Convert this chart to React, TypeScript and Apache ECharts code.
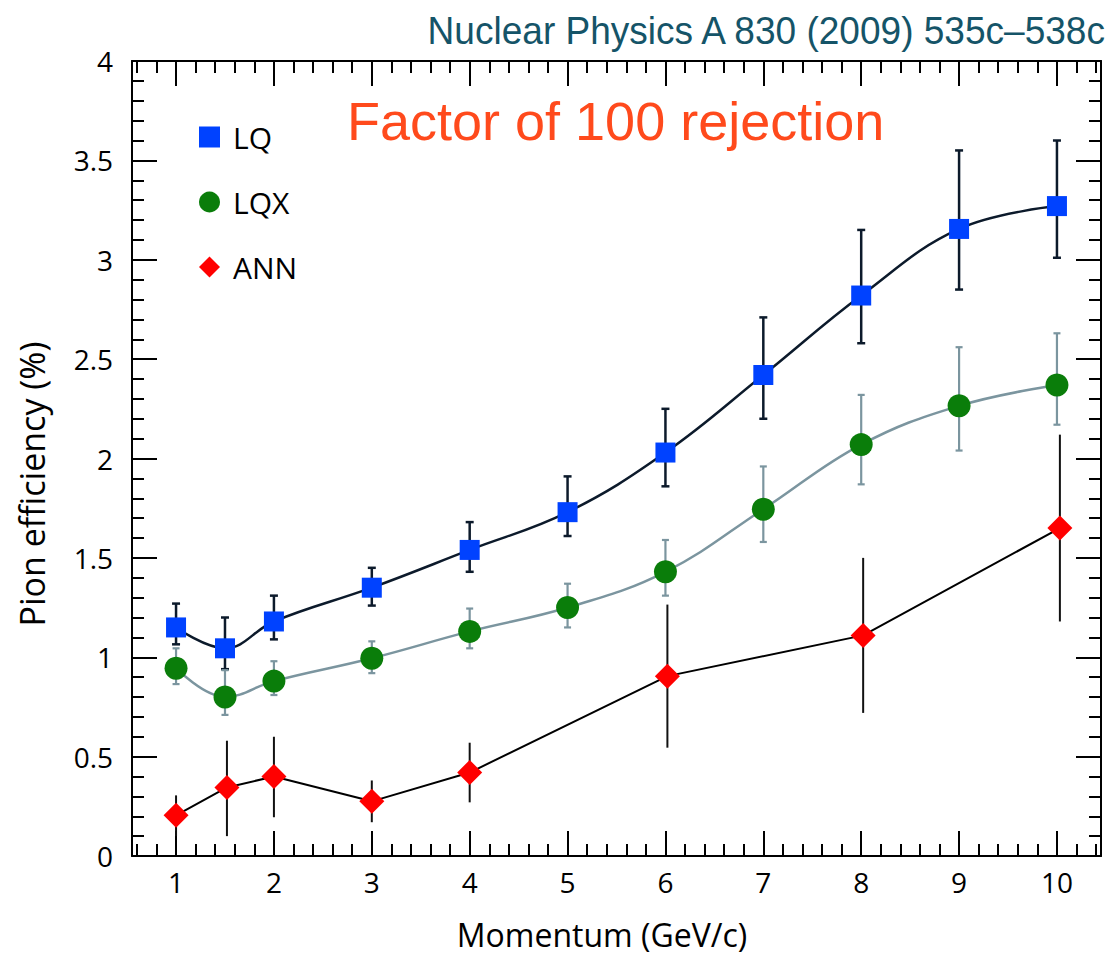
import { useEffect, useRef } from 'react';
import * as echarts from 'echarts';

// ---- data ----
const momentum = [1, 1.5, 2, 3, 4, 5, 6, 7, 8, 9, 10];
const lqValues = [1.15, 1.045, 1.18, 1.35, 1.54, 1.73, 2.03, 2.42, 2.82, 3.155, 3.27];
const lqLow = [1.065, 0.94, 1.09, 1.26, 1.43, 1.61, 1.86, 2.2, 2.58, 2.85, 3.01];
const lqHigh = [1.27, 1.2, 1.31, 1.45, 1.68, 1.91, 2.25, 2.71, 3.15, 3.55, 3.6];

const lqxValues = [0.945, 0.8, 0.88, 0.995, 1.13, 1.25, 1.43, 1.745, 2.07, 2.265, 2.37];
const lqxLow = [0.865, 0.71, 0.81, 0.92, 1.045, 1.15, 1.31, 1.58, 1.87, 2.04, 2.17];
const lqxHigh = [1.045, 0.935, 0.98, 1.08, 1.245, 1.37, 1.59, 1.96, 2.32, 2.56, 2.63];

const annMomentum = [1, 1.52, 2, 3, 4, 6.02, 8.02, 10.03];
const annValues = [0.205, 0.345, 0.4, 0.275, 0.42, 0.905, 1.11, 1.65];
const annLow = [0.1, 0.1, 0.195, 0.17, 0.27, 0.545, 0.72, 1.18];
const annHigh = [0.305, 0.58, 0.6, 0.38, 0.57, 1.265, 1.5, 2.12];

const seriesNames = ['LQ', 'LQX', 'ANN'];
const titleText = 'Nuclear Physics A 830 (2009) 535c\u2013538c';
const noteText = 'Factor of 100 rejection';
const xAxisName = 'Momentum (GeV/c)';
const yAxisName = 'Pion efficiency (%)';

const FONT = '"Open Sans", "Noto Sans", sans-serif';

function pairs(xs: number[], ys: number[]) {
  return xs.map((x, i) => [x, ys[i]]);
}

function errorBars(name: string, xs: number[], lows: number[], highs: number[], color: string, width: number, cap: number) {
  return {
    type: 'custom',
    name,
    z: 2,
    silent: true,
    data: xs.map((x, i) => [x, lows[i], highs[i]]),
    encode: { x: 0, y: [1, 2] },
    renderItem: (_params: any, api: any) => {
      const x = api.value(0);
      const top = api.coord([x, api.value(2)]);
      const bot = api.coord([x, api.value(1)]);
      const style = { stroke: color, lineWidth: width };
      const children: any[] = [
        { type: 'line', shape: { x1: top[0], y1: top[1], x2: bot[0], y2: bot[1] }, style },
      ];
      if (cap > 0) {
        children.push({ type: 'line', shape: { x1: top[0] - cap, y1: top[1], x2: top[0] + cap, y2: top[1] }, style });
        children.push({ type: 'line', shape: { x1: bot[0] - cap, y1: bot[1], x2: bot[0] + cap, y2: bot[1] }, style });
      }
      return { type: 'group', children };
    },
  };
}

function axisCommon() {
  return {
    type: 'value',
    axisLine: { show: true, onZero: false, lineStyle: { color: '#000', width: 2 } },
    axisTick: { show: true, inside: true, length: 25, lineStyle: { color: '#000', width: 2 } },
    minorTick: { show: true, splitNumber: 5, length: 12, lineStyle: { color: '#000', width: 2 } },
    splitLine: { show: false },
    minorSplitLine: { show: false },
  };
}

const xRange = { min: 0.55, max: 10.45, minInterval: 1, maxInterval: 1 };
const yRange = { min: 0, max: 4, interval: 0.5 };

const option: any = {
  animation: false,
  backgroundColor: '#fff',
  textStyle: { fontFamily: FONT },
  grid: { left: 132, right: 9, top: 61, bottom: 99, containLabel: false },
  legend: {
    orient: 'vertical',
    left: 194,
    top: 117,
    itemWidth: 21,
    itemHeight: 21,
    itemGap: 35,
    selectedMode: false,
    textStyle: { fontFamily: FONT, fontSize: 30, color: '#000', padding: [0, 0, 0, 8] },
    data: [
      { name: seriesNames[0], icon: 'rect' },
      { name: seriesNames[1], icon: 'circle' },
      { name: seriesNames[2], icon: 'diamond' },
    ],
  },
  xAxis: [
    {
      ...axisCommon(),
      ...xRange,
      position: 'bottom',
      axisLabel: {
        show: true,
        margin: 12,
        fontSize: 28,
        color: '#000',
        fontFamily: FONT,
        formatter: (v: number) => (Math.abs(v - Math.round(v)) < 1e-9 ? String(Math.round(v)) : ''),
      },
    },
    { ...axisCommon(), ...xRange, position: 'top', axisLabel: { show: false } },
  ],
  yAxis: [
    {
      ...axisCommon(),
      ...yRange,
      position: 'left',
      axisLabel: { show: true, margin: 19, fontSize: 28, color: '#000', fontFamily: FONT },
    },
    { ...axisCommon(), ...yRange, position: 'right', axisLabel: { show: false } },
  ],
  graphic: [
    {
      type: 'text',
      x: 1105,
      y: 31,
      scaleX: 0.975,
      style: {
        text: titleText,
        fontFamily: '"Liberation Sans Narrow", "Liberation Sans", Arial, sans-serif',
        fontSize: 38,
        fill: '#155468',
        align: 'right',
        verticalAlign: 'middle',
      },
    },
    {
      type: 'text',
      left: 347,
      top: 94,
      style: {
        text: noteText,
        fontFamily: '"Liberation Sans", Arial, sans-serif',
        fontSize: 54,
        fill: '#ff4a1c',
      },
    },
    {
      type: 'text',
      x: 32,
      y: 484,
      rotation: Math.PI / 2,
      style: {
        text: yAxisName,
        fontFamily: FONT,
        fontSize: 34,
        fill: '#000',
        align: 'center',
        verticalAlign: 'middle',
      },
    },
    {
      type: 'text',
      x: 602,
      y: 934,
      style: {
        text: xAxisName,
        fontFamily: FONT,
        fontSize: 32,
        fill: '#000',
        align: 'center',
        verticalAlign: 'middle',
      },
    },
  ],
  series: [
    errorBars('LQ err', momentum, lqLow, lqHigh, '#0c1a2b', 2.5, 4),
    errorBars('LQX err', momentum, lqxLow, lqxHigh, '#7b959f', 2.2, 3.5),
    errorBars('ANN err', annMomentum, annLow, annHigh, '#111', 2, 0),
    {
      type: 'line',
      name: seriesNames[0],
      z: 3,
      data: pairs(momentum, lqValues),
      smooth: 0.4,
      symbol: 'rect',
      symbolSize: 20,
      itemStyle: { color: '#0042ff' },
      lineStyle: { color: '#0c1a2b', width: 2.5 },
    },
    {
      type: 'line',
      name: seriesNames[1],
      z: 3,
      data: pairs(momentum, lqxValues),
      smooth: 0.4,
      symbol: 'circle',
      symbolSize: 23,
      itemStyle: { color: '#0a7d0a' },
      lineStyle: { color: '#7b959f', width: 2.5 },
    },
    {
      type: 'line',
      name: seriesNames[2],
      z: 3,
      data: pairs(annMomentum, annValues),
      smooth: false,
      symbol: 'diamond',
      symbolSize: 25,
      itemStyle: { color: '#ff0000' },
      lineStyle: { color: '#000', width: 2 },
    },
  ],
};

export default function App() {
  const ref = useRef<HTMLDivElement>(null);
  useEffect(() => {
    if (!ref.current) return;
    const chart = echarts.init(ref.current, null, { renderer: 'svg' });
    chart.setOption(option);
    return () => chart.dispose();
  }, []);
  return (
    <div
      ref={ref}
      style={{ position: 'fixed', left: 0, top: 0, width: 1110, height: 955, background: '#fff' }}
    />
  );
}
